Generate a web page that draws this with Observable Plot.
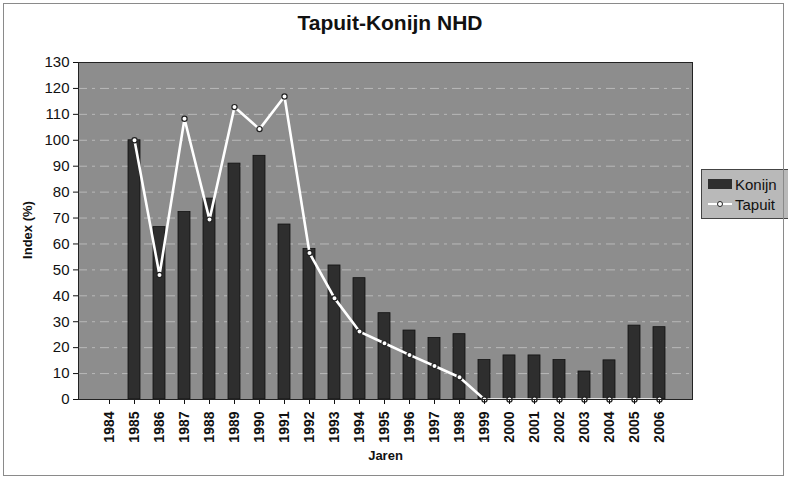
<!DOCTYPE html>
<html>
<head>
<meta charset="utf-8">
<script src="https://cdn.jsdelivr.net/npm/d3@7"></script>
<script src="https://cdn.jsdelivr.net/npm/@observablehq/plot@0.6"></script>
<style>
  html, body { margin: 0; padding: 0; background: #fff; }
  #wrap { position: relative; width: 788px; height: 480px; overflow: hidden; font-family: "Liberation Sans", Arial, sans-serif; }
  #border { position: absolute; left: 3px; top: 3px; width: 781px; height: 473px; border: 1px solid #8a8a8a; box-sizing: border-box; pointer-events: none; }
  #title { position: absolute; left: 0; top: 11px; width: 780px; text-align: center; font-weight: bold; font-size: 21px; color: #111; }
  #chart { position: absolute; left: 0; top: 50px; }
  #ylab { position: absolute; left: 27px; top: 230px; transform: translate(-50%, -50%) rotate(-90deg); font-weight: bold; font-size: 13px; color: #111; white-space: nowrap; }
  #legend { position: absolute; left: 701px; top: 169px; width: 92px; height: 50px; background: #b9b9b9; border: 1px solid #444; box-sizing: border-box; font-size: 15px; color: #111; }
  .row { position: absolute; left: 6px; height: 18px; display: flex; align-items: center; }
  .sw { width: 24px; height: 10px; background: #2e2e2e; margin-right: 3px; }
  .ln { position: relative; width: 24px; height: 10px; margin-right: 3px; }
  .ln .bar { position: absolute; left: 0; top: 4px; width: 24px; height: 2px; background: #fff; }
  .ln .pt { position: absolute; left: 9px; top: 2px; width: 4px; height: 4px; border: 1.2px solid #222; background: #fff; border-radius: 50%; }
</style>
</head>
<body>
<div id="wrap">
  <div id="title">Tapuit-Konijn NHD</div>
  <div id="chart"></div>
  <div id="ylab">Index (%)</div>
  <div id="legend">
    <div class="row" style="top:5px"><div class="sw"></div>Konijn</div>
    <div class="row" style="top:25px"><div class="ln"><div class="bar"></div><div class="pt"></div></div>Tapuit</div>
  </div>
  <div id="border"></div>
</div>
<script>
const years = ["1984","1985","1986","1987","1988","1989","1990","1991","1992","1993","1994","1995","1996","1997","1998","1999","2000","2001","2002","2003","2004","2005","2006"];
const konijn = [null,100,66.5,72.3,77.5,91,94,67.5,58.1,51.7,46.8,33.3,26.6,23.7,25.2,15.2,17,17,15.2,10.8,15.1,28.5,27.9];
const tapuit = [null,100,48,108.3,69.4,112.8,104.3,116.9,56.5,39.1,26.2,21.7,17.2,12.9,8.6,0,0,0,0,0,0,0,0];
const yTicks = [0,10,20,30,40,50,60,70,80,90,100,110,120,130];

const bars = years.map((y, i) => ({year: y, value: konijn[i]})).filter(d => d.value != null);
const pts = years.map((y, i) => ({year: y, value: tapuit[i]})).filter(d => d.value != null);

const plot = Plot.plot({
  width: 788,
  height: 430,
  marginTop: 12,
  marginBottom: 81,
  marginLeft: 78,
  marginRight: 96,
  style: {fontFamily: "Liberation Sans, Arial, sans-serif", background: "transparent", color: "#111"},
  x: {domain: years, range: [88.2, 678.8], paddingInner: 0.54, paddingOuter: 0.27, label: null},
  y: {domain: [0, 130], label: null},
  marks: [
    Plot.frame({fill: "#8d8d8d"}),
    Plot.gridY(yTicks.filter(t => t > 0 && t < 130), {stroke: "#b8b8b8", strokeOpacity: 1, strokeDasharray: "9,5,3,5"}),
    Plot.barY(bars, {x: "year", y: "value", fill: "#2e2e2e", stroke: "#111", strokeWidth: 0.8}),
    Plot.line(pts, {x: "year", y: "value", stroke: "#fff", strokeWidth: 2.6}),
    Plot.dot(pts, {x: "year", y: "value", r: 2.6, fill: "#fff", stroke: "#222", strokeWidth: 1.2}),
    Plot.frame({stroke: "#222"}),
    Plot.axisY(yTicks, {tickSize: 5, tickPadding: 4, fontSize: 15, label: null}),
    Plot.axisX({tickSize: 5, tickPadding: 7, tickRotate: -90, fontSize: 14, fontWeight: "bold", label: "Jaren", labelAnchor: "center", labelOffset: 60}),
    Plot.ruleY([0], {stroke: "#222"})
  ]
});
document.getElementById("chart").appendChild(plot);
plot.querySelectorAll("g[aria-label='x-axis label'] text").forEach(t => { t.style.fontWeight = "bold"; t.style.fontSize = "13px"; });
</script>
</body>
</html>
